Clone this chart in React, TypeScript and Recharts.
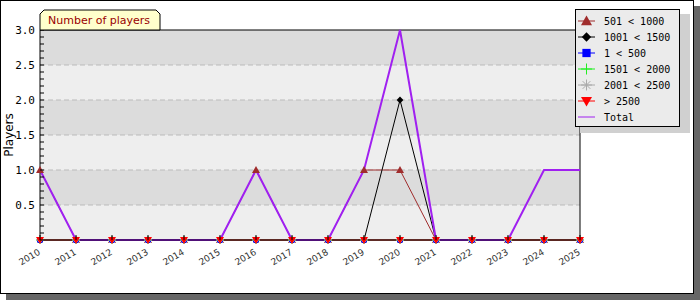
import { LineChart, Line, XAxis, YAxis, ReferenceArea, ReferenceLine } from 'recharts'

const years = ['2010', '2011', '2012', '2013', '2014', '2015', '2016', '2017', '2018', '2019', '2020', '2021', '2022', '2023', '2024', '2025']
const range501to1000 = [1, 0, 0, 0, 0, 0, 1, 0, 0, 1, 1, 0, 0, 0, 0, 0]
const range1001to1500 = [0, 0, 0, 0, 0, 0, 0, 0, 0, 0, 2, 0, 0, 0, 0, 0]
const range1to500 = [0, 0, 0, 0, 0, 0, 0, 0, 0, 0, 0, 0, 0, 0, 0, 0]
const range1501to2000 = [0, 0, 0, 0, 0, 0, 0, 0, 0, 0, 0, 0, 0, 0, 0, 0]
const range2001to2500 = [0, 0, 0, 0, 0, 0, 0, 0, 0, 0, 0, 0, 0, 0, 0, 0]
const rangeOver2500 = [0, 0, 0, 0, 0, 0, 0, 0, 0, 0, 0, 0, 0, 0, 0, 0]
const total = [1, 0, 0, 0, 0, 0, 1, 0, 0, 1, 3, 0, 0, 0, 1, 1]

const yTicks = [
  0, 0.1, 0.2, 0.3, 0.4, 0.5, 0.6, 0.7, 0.8, 0.9, 1, 1.1, 1.2, 1.3, 1.4, 1.5,
  1.6, 1.7, 1.8, 1.9, 2, 2.1, 2.2, 2.3, 2.4, 2.5, 2.6, 2.7, 2.8, 2.9, 3,
]
const bandEdges = [0, 0.5, 1, 1.5, 2, 2.5, 3]

type MarkerKind = 'up' | 'diamond' | 'square' | 'plus' | 'star' | 'down'

const series: { key: string; name: string; color: string; marker: MarkerKind; values: number[] }[] = [
  { key: 'r501', name: '501 < 1000', color: '#a02c2c', marker: 'up', values: range501to1000 },
  { key: 'r1001', name: '1001 < 1500', color: '#000000', marker: 'diamond', values: range1001to1500 },
  { key: 'r1', name: '1 < 500', color: '#0000ff', marker: 'square', values: range1to500 },
  { key: 'r1501', name: '1501 < 2000', color: '#22ee22', marker: 'plus', values: range1501to2000 },
  { key: 'r2001', name: '2001 < 2500', color: '#aaaaaa', marker: 'star', values: range2001to2500 },
  { key: 'r2500', name: '> 2500', color: '#ff0000', marker: 'down', values: rangeOver2500 },
]

const data = years.map((year, i) => {
  const row: Record<string, string | number> = { year, total: total[i] }
  series.forEach((s) => {
    row[s.key] = s.values[i]
  })
  return row
})

function markerShape(kind: MarkerKind, color: string, cx: number, cy: number, r: number) {
  switch (kind) {
    case 'up':
      return <polygon points={`${cx},${cy - r} ${cx - r},${cy + r * 0.75} ${cx + r},${cy + r * 0.75}`} fill={color} />
    case 'down':
      return <polygon points={`${cx - r},${cy - r * 0.75} ${cx + r},${cy - r * 0.75} ${cx},${cy + r}`} fill={color} />
    case 'diamond':
      return <polygon points={`${cx},${cy - r * 0.85} ${cx + r * 0.85},${cy} ${cx},${cy + r * 0.85} ${cx - r * 0.85},${cy}`} fill={color} />
    case 'square':
      return <rect x={cx - r * 0.75} y={cy - r * 0.75} width={r * 1.5} height={r * 1.5} fill={color} />
    case 'plus':
      return (
        <g stroke={color} strokeWidth={1}>
          <line x1={cx - r} y1={cy} x2={cx + r} y2={cy} />
          <line x1={cx} y1={cy - r} x2={cx} y2={cy + r} />
        </g>
      )
    case 'star':
      return (
        <g stroke={color} strokeWidth={1}>
          <line x1={cx - r} y1={cy} x2={cx + r} y2={cy} />
          <line x1={cx} y1={cy - r} x2={cx} y2={cy + r} />
          <line x1={cx - r * 0.7} y1={cy - r * 0.7} x2={cx + r * 0.7} y2={cy + r * 0.7} />
          <line x1={cx - r * 0.7} y1={cy + r * 0.7} x2={cx + r * 0.7} y2={cy - r * 0.7} />
        </g>
      )
  }
}

function makeDot(kind: MarkerKind, color: string) {
  return (props: any) => {
    const { cx, cy, index } = props
    if (cx == null || cy == null) return <g key={`${kind}-${index}`} />
    return <g key={`${kind}-${index}`}>{markerShape(kind, color, cx, cy, 4)}</g>
  }
}

const isMajor = (v: number) => Math.abs(v * 2 - Math.round(v * 2)) < 1e-6

function PlayerTick(props: any) {
  const { x, y, payload } = props
  const v = payload.value as number
  return (
    <g>
      <line x1={x} y1={y} x2={x + 4} y2={y} stroke="#000" />
      {isMajor(v) && v > 0 && (
        <text x={x - 5} y={y} dy={4} textAnchor="end" fontSize={11} fontFamily="DejaVu Sans Mono" fill="#000">
          {v.toFixed(1)}
        </text>
      )}
    </g>
  )
}

function YearTick(props: any) {
  const { x, y, payload } = props
  const tx = x + 1
  const ty = y + 14
  return (
    <g>
      <line x1={x} y1={y} x2={x} y2={y - 5} stroke="#000" />
      <text x={tx} y={ty} textAnchor="end" transform={`rotate(-30 ${tx} ${ty})`} fontSize={9} fontFamily="DejaVu Sans" fill="#333">
        {payload.value}
      </text>
    </g>
  )
}

export default function App() {
  return (
    <div style={{ position: 'relative', width: 700, height: 300, fontFamily: 'DejaVu Sans' }}>
      <style>{'body{margin:0}'}</style>
      <div style={{ position: 'absolute', left: 6, top: 6, width: 694, height: 294, background: '#666' }} />
      <div style={{ position: 'absolute', left: 0, top: 0, width: 694, height: 294, background: '#fff', border: '1px solid #000', boxSizing: 'border-box' }} />
      <div style={{ position: 'absolute', left: 0, top: 0 }}>
        <LineChart width={700} height={300} data={data} margin={{ top: 30, right: 120, bottom: 0, left: 0 }}>
          {bandEdges.slice(0, -1).map((lo, i) => (
            <ReferenceArea key={lo} y1={lo} y2={bandEdges[i + 1]} fill={i % 2 === 0 ? '#eeeeee' : '#dcdcdc'} fillOpacity={1} stroke="none" />
          ))}
          {bandEdges.slice(1, -1).map((v) => (
            <ReferenceLine key={v} y={v} stroke="#bbbbbb" strokeDasharray="5 3" />
          ))}
          <ReferenceLine y={3} stroke="#000" />
          <ReferenceLine x="2025" stroke="#000" />
          <XAxis dataKey="year" height={60} interval={0} tickSize={0} tickMargin={0} tick={<YearTick />} axisLine={{ stroke: '#000' }} tickLine={false} />
          <YAxis width={40} domain={[0, 3]} ticks={yTicks} interval={0} tickSize={0} tickMargin={0} tick={<PlayerTick />} axisLine={{ stroke: '#000' }} tickLine={false} />
          {series.map((s) => (
            <Line key={s.key} dataKey={s.key} stroke={s.color} strokeWidth={1} dot={false} isAnimationActive={false} type="linear" />
          ))}
          <Line dataKey="total" stroke="#a020f0" strokeWidth={2} dot={false} isAnimationActive={false} type="linear" />
          {series.map((s) => (
            <Line key={`${s.key}-m`} dataKey={s.key} stroke="none" dot={makeDot(s.marker, s.color)} isAnimationActive={false} type="linear" />
          ))}
        </LineChart>
      </div>
      <svg width={700} height={300} style={{ position: 'absolute', left: 0, top: 0, pointerEvents: 'none' }}>
        <polygon points="40,30 40,14 44,10 156,10 160,14 160,30" fill="#ffffcc" stroke="#000" strokeWidth={1} />
        <text x={48} y={24} fontSize={11} fill="#990000" fontFamily="DejaVu Sans">Number of players</text>
        <text transform="translate(13,135) rotate(-90)" textAnchor="middle" fontSize={12} fontFamily="DejaVu Sans" fill="#000">Players</text>
      </svg>
      <div style={{ position: 'absolute', left: 580, top: 14, width: 110, height: 119, background: '#d0d0d0' }} />
      <div style={{ position: 'absolute', left: 575, top: 9, width: 105, height: 118, background: '#ebebeb', border: '1px solid #000', boxSizing: 'border-box', paddingTop: 3 }}>
        {[...series.map((s) => ({ name: s.name, color: s.color, marker: s.marker as MarkerKind | null })), { name: 'Total', color: '#a020f0', marker: null }].map((item) => (
          <div key={item.name} style={{ display: 'flex', alignItems: 'center', height: 16 }}>
            <svg width={24} height={16} style={{ marginLeft: 1 }}>
              <line x1={1} y1={8} x2={18} y2={8} stroke={item.color} strokeWidth={1} />
              {item.marker && markerShape(item.marker, item.color, 9.5, 8, 5.5)}
            </svg>
            <span style={{ fontFamily: 'DejaVu Sans Mono', fontSize: 10, marginLeft: 3, color: '#000', whiteSpace: 'pre' }}>{item.name}</span>
          </div>
        ))}
      </div>
    </div>
  )
}
